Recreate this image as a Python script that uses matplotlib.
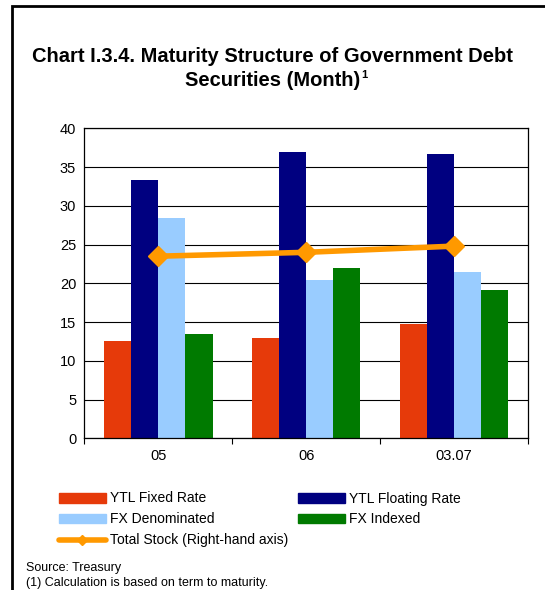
import numpy as np
import matplotlib
matplotlib.use("Agg")
import matplotlib.pyplot as plt
from matplotlib.patches import Patch, Rectangle
from matplotlib.lines import Line2D

plt.rcParams["font.family"] = ["Liberation Sans", "DejaVu Sans"]

# ---------- data ----------
periods = ["05", "06", "03.07"]
ytl_fixed = [12.5, 12.9, 14.8]
ytl_floating = [33.3, 36.9, 36.7]
fx_denominated = [28.4, 20.4, 21.5]
fx_indexed = [13.5, 22.0, 19.1]
total_stock = [23.5, 24.0, 24.8]

series = [
    ("YTL Fixed Rate", ytl_fixed, "#E63A0A"),
    ("YTL Floating Rate", ytl_floating, "#000080"),
    ("FX Denominated", fx_denominated, "#99CCFF"),
    ("FX Indexed", fx_indexed, "#007A00"),
]
LINE_COLOR = "#FF9900"

fig = plt.figure(figsize=(5.45, 5.9), dpi=100)
ax = fig.add_axes([0.155, 0.2571, 0.814, 0.5254])

# outer frame
fig.patches.append(Rectangle((12 / 545, -0.1), 1.2, (1 - 6 / 590) + 0.1,
                             transform=fig.transFigure, fill=False,
                             edgecolor="black", lw=2, zorder=0))

X = np.arange(len(periods))
w = 0.183
for i, (name, vals, col) in enumerate(series):
    ax.bar(X + (i - 1.5) * w, vals, width=w, color=col, label=name, zorder=2)

ax.plot(X, total_stock, color=LINE_COLOR, lw=4, marker="D", ms=10,
        mec=LINE_COLOR, mfc=LINE_COLOR, zorder=3)

ax.set_xlim(-0.5, len(periods) - 0.5)
ax.set_ylim(0, 40)
ax.set_yticks(range(0, 41, 5))
ax.set_xticks(X)
ax.set_xticklabels(periods)
ax.set_xticks([-0.5, 0.5, 1.5, 2.5], minor=True)
ax.tick_params(axis="x", which="major", length=0, labelsize=10.5, pad=8)
ax.tick_params(axis="x", which="minor", length=4, width=0.8)
ax.tick_params(axis="y", length=0, labelsize=10.5, pad=6)
ax.grid(axis="y", color="black", lw=0.8, zorder=1)
ax.set_axisbelow(True)
for s in ax.spines.values():
    s.set_linewidth(0.9)

# title, with a small superscript footnote mark on the second line
fig.text(0.5, 1 - 57 / 590, "Chart I.3.4. Maturity Structure of Government Debt",
         ha="center", va="center", fontsize=14.5, fontweight="bold")
t2 = fig.text(0.5, 1 - 81 / 590, "Securities (Month)",
              ha="center", va="center", fontsize=14.5, fontweight="bold")
bb = t2.get_window_extent(renderer=fig.canvas.get_renderer())
fig.text(bb.x1 / fig.bbox.width + 0.002, bb.y1 / fig.bbox.height + 0.003, "1",
         ha="left", va="top", fontsize=8, fontweight="bold")

handles = [
    Patch(color=series[0][2], label=series[0][0]),
    Patch(color=series[2][2], label=series[2][0]),
    Line2D([], [], color=LINE_COLOR, lw=4, marker="D", ms=5,
           solid_capstyle="round", label="Total Stock (Right-hand axis)"),
    Patch(color=series[1][2], label=series[1][0]),
    Patch(color=series[3][2], label=series[3][0]),
]
fig.legend(handles=handles, ncol=2, loc="upper left",
           bbox_to_anchor=(46 / 545, 1 - 479 / 590), frameon=False,
           fontsize=10, handlelength=3.4, handleheight=0.7,
           labelspacing=0.5, columnspacing=0.7, handletextpad=0.3)

fig.text(26 / 545, 1 - 568 / 590, "Source: Treasury", fontsize=9, va="center")
fig.text(26 / 545, 1 - 583 / 590, "(1) Calculation is based on term to maturity.",
         fontsize=9, va="center")

fig.savefig("out.png", dpi=100)
